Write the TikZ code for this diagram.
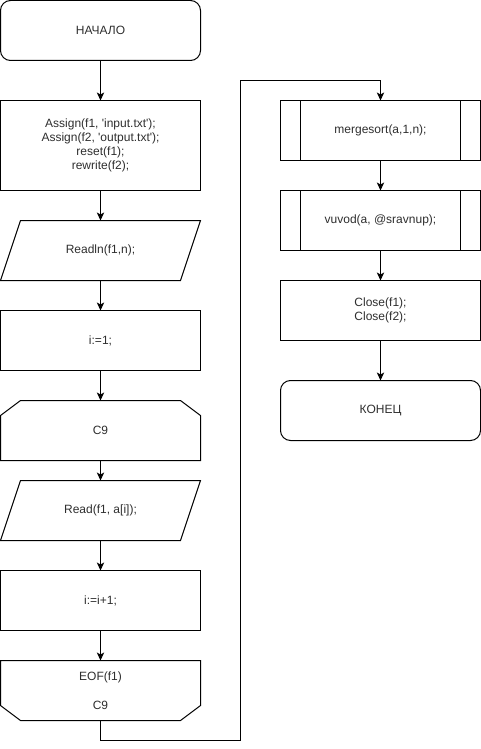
\documentclass[tikz,border=0pt]{standalone}
\usepackage{fontspec}
\setmainfont{Liberation Sans}[Ligatures=TeXOff]
\usetikzlibrary{arrows.meta,calc}
\begin{document}
\begin{tikzpicture}[x=0.75pt,y=-0.75pt,
  line width=0.75pt,
  every node/.style={font=\fontsize{9}{10.5}\selectfont, text=black!82, align=center, inner sep=0pt, outer sep=0pt},
  blk/.style={minimum width=150pt, minimum height=45pt},
  tall/.style={blk, minimum height=67.5pt},
  outline/.style={draw, line width=0.75pt},
  term/.style={blk, outline, rounded corners=7.5pt},
  flow/.style={-{Stealth[length=6pt,width=5.5pt,inset=1.5pt]}},
]
\useasboundingbox (0,0) rectangle (481,749);

% left column
\node[term] (start) at (100.5,30.5) {НАЧАЛО};
\node[tall, outline] (init) at (100.5,145.5) {Assign(f1, 'input.txt');\\Assign(f2, 'output.txt');\\reset(f1);\\rewrite(f2);};
\node[blk] (readn) at (100.5,250.5) {Readln(f1,n);};
\node[blk, outline] (ione) at (100.5,340.5) {i:=1;};
\node[blk] (loopbeg) at (100.5,430.5) {C9};
\node[blk] (reada) at (100.5,510.5) {Read(f1, a[i]);};
\node[blk, outline] (inc) at (100.5,600.5) {i:=i+1;};
\node[blk] (loopend) at (100.5,690.5) {EOF(f1)\\[11.25pt]C9};

% right column
\node[blk, outline] (msort) at (380.5,130.5) {mergesort(a,1,n);};
\node[blk, outline] (vuvod) at (380.5,220.5) {vuvod(a, @sravnup);};
\node[blk, outline] (close) at (380.5,310.5) {Close(f1);\\Close(f2);};
\node[term] (finish) at (380.5,410.5) {КОНЕЦ};

% input/output parallelograms
\foreach \n in {readn, reada}
  \draw ($(\n.north west)+(20,0)$) -- (\n.north east) -- ($(\n.south east)+(-20,0)$) -- (\n.south west) -- cycle;

% loop limits
\draw ($(loopbeg.north west)+(20,0)$) -- ($(loopbeg.north east)+(-20,0)$) -- ($(loopbeg.north east)+(0,15)$)
  -- (loopbeg.south east) -- (loopbeg.south west) -- ($(loopbeg.north west)+(0,15)$) -- cycle;
\draw (loopend.north west) -- (loopend.north east) -- ($(loopend.south east)+(0,-15)$)
  -- ($(loopend.south east)+(-20,0)$) -- ($(loopend.south west)+(20,0)$) -- ($(loopend.south west)+(0,-15)$) -- cycle;

% predefined process side bars
\foreach \n in {msort, vuvod} {
  \draw ($(\n.north west)+(20,0)$) -- ($(\n.south west)+(20,0)$);
  \draw ($(\n.north east)+(-20,0)$) -- ($(\n.south east)+(-20,0)$);
}

% connectors
\draw[flow] (start.south) -- (init.north);
\draw[flow] (init.south) -- (readn.north);
\draw[flow] (readn.south) -- (ione.north);
\draw[flow] (ione.south) -- (loopbeg.north);
\draw[flow] (loopbeg.south) -- (reada.north);
\draw[flow] (reada.south) -- (inc.north);
\draw[flow] (inc.south) -- (loopend.north);
\coordinate (low) at (240.5,740.5);
\coordinate (high) at (240.5,80.5);
\draw[flow] (loopend.south) |- (low) -- (high) -| (msort.north);
\draw[flow] (msort.south) -- (vuvod.north);
\draw[flow] (vuvod.south) -- (close.north);
\draw[flow] (close.south) -- (finish.north);
\end{tikzpicture}
\end{document}
